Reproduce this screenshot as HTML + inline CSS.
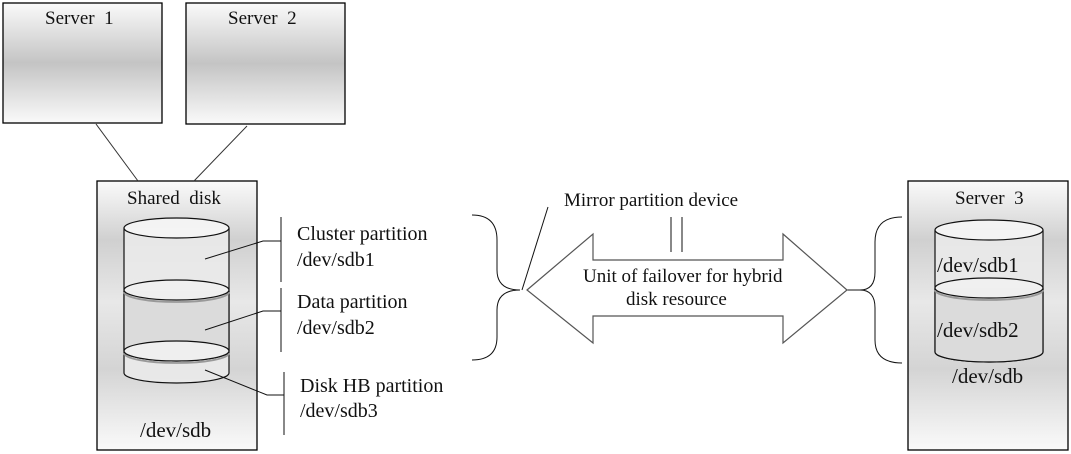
<!DOCTYPE html>
<html><head><meta charset="utf-8"><style>
html,body{margin:0;padding:0;background:#fff;}
svg{display:block;}
text{font-family:"Liberation Serif",serif;font-size:19px;fill:#111;}
.l{font-size:20px;}
.c{font-size:21px;}
</style></head><body>
<svg width="1071" height="454" viewBox="0 0 1071 454">
<defs>
<linearGradient id="g" x1="0" y1="0" x2="0" y2="1">
<stop offset="0" stop-color="#fafafa"/>
<stop offset="0.5" stop-color="#c4c4c4"/>
<stop offset="1" stop-color="#fafafa"/>
</linearGradient>
<linearGradient id="g2" x1="0" y1="0" x2="0" y2="1">
<stop offset="0" stop-color="#fafafa"/>
<stop offset="0.22" stop-color="#d0d0d0"/>
<stop offset="0.45" stop-color="#e8e8e8"/>
<stop offset="0.7" stop-color="#d4d4d4"/>
<stop offset="1" stop-color="#fafafa"/>
</linearGradient>
</defs>
<g stroke="#000" stroke-width="1.3">
<rect x="3" y="3" width="159" height="120" fill="url(#g)"/>
<rect x="186" y="3" width="159" height="121" fill="url(#g)"/>
<rect x="97" y="181" width="160" height="269" fill="url(#g2)"/>
<rect x="908" y="181" width="160" height="269" fill="url(#g2)"/>
</g>
<g stroke="#333" stroke-width="1" fill="none">
<line x1="96" y1="124" x2="138" y2="181"/>
<line x1="247" y1="126" x2="194" y2="181"/>
</g>
<text x="45" y="24">Server&#160; 1</text>
<text x="228" y="24">Server&#160; 2</text>
<text x="127" y="204">Shared&#160; disk</text>
<text x="955" y="204">Server&#160; 3</text>
<g stroke="#111" stroke-width="1.2">
<path d="M124 228 V373 A52.5 10 0 0 0 229 373 V228" fill="rgba(235,235,235,0.85)"/>
<path d="M124 291 V351 A52.5 10 0 0 0 229 351 V291" fill="rgba(215,215,215,0.8)"/>
<ellipse cx="176.5" cy="228" rx="52.5" ry="10" fill="rgba(245,245,245,0.9)"/>
<path d="M124 292 A52.5 10 0 0 0 229 292" fill="none" stroke="#999" stroke-width="1.8"/>
<ellipse cx="176.5" cy="290" rx="52.5" ry="10" fill="rgba(240,240,240,0.95)"/>
<path d="M124 353 A52.5 10 0 0 0 229 353" fill="none" stroke="#999" stroke-width="1.8"/>
<ellipse cx="176.5" cy="351" rx="52.5" ry="10" fill="rgba(240,240,240,0.95)"/>
</g>
<g stroke="#111" stroke-width="1.2">
<path d="M935 230 V352 A54 10 0 0 0 1043 352 V230" fill="rgba(235,235,235,0.85)"/>
<path d="M935 288 V352 A54 10 0 0 0 1043 352 V288" fill="rgba(215,215,215,0.8)"/>
<ellipse cx="989" cy="230" rx="54" ry="10" fill="rgba(245,245,245,0.9)"/>
<path d="M935 290 A54 10 0 0 0 1043 290" fill="none" stroke="#999" stroke-width="1.8"/>
<ellipse cx="989" cy="288" rx="54" ry="10" fill="rgba(240,240,240,0.95)"/>
</g>
<text class="c" x="937" y="272">/dev/sdb1</text>
<text class="c" x="937" y="337">/dev/sdb2</text>
<text class="c" x="952" y="383">/dev/sdb</text>
<text class="c" x="140" y="437">/dev/sdb</text>
<g stroke="#111" stroke-width="1" fill="none">
<polyline points="205,259 263,241 281,241"/>
<line x1="281" y1="217" x2="281" y2="282"/>
<polyline points="205,330 263,311 281,311"/>
<line x1="281" y1="288" x2="281" y2="352"/>
<polyline points="205,370 267,395 284,395"/>
<line x1="284" y1="372" x2="284" y2="435"/>
<path d="M472 215 Q497 215 497 240 V270 Q497 290 520 290 Q497 290 497 310 V337 Q497 360 472 360"/>
<path d="M902 217 Q875 217 875 242 V272 Q875 290 860 290 Q875 290 875 308 V340 Q875 363 902 363"/>
<line x1="548" y1="207" x2="522" y2="290"/>
<line x1="671" y1="217" x2="671" y2="252"/>
<line x1="682" y1="217" x2="682" y2="252"/>
<line x1="847" y1="290" x2="860" y2="290"/>
</g>
<path d="M527 290 L593 234 V260 H783 V234 L847 290 L783 343 V316 H593 V343 Z" fill="#fff" stroke="#555" stroke-width="1.2"/>
<text class="l" x="297" y="240">Cluster partition</text>
<text class="l" x="297" y="266">/dev/sdb1</text>
<text class="l" x="297" y="308">Data partition</text>
<text class="l" x="297" y="334">/dev/sdb2</text>
<text class="l" x="300" y="392">Disk HB partition</text>
<text class="l" x="300" y="417">/dev/sdb3</text>
<text x="564" y="206">Mirror partition device</text>
<text x="583" y="282">Unit of failover for hybrid</text>
<text x="626" y="305">disk resource</text>
</svg>
</body></html>
